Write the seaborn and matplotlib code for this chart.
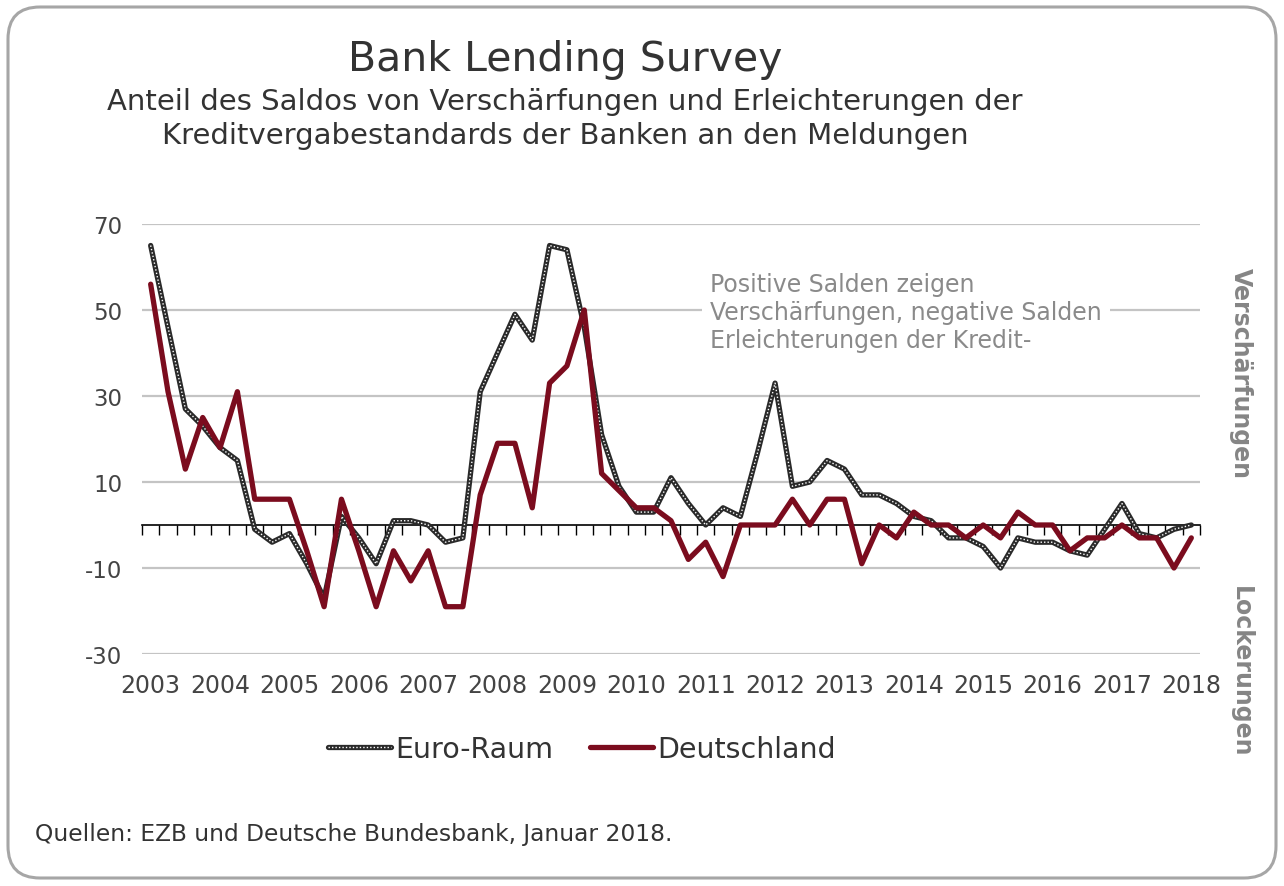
import pandas as pd
import matplotlib.pyplot as plt
import matplotlib.transforms as mtransforms
from matplotlib.lines import Line2D
from matplotlib.patches import FancyBboxPatch
import seaborn as sns

# Set seaborn style
sns.set_theme(style="white")
plt.rcParams['font.family'] = ['DejaVu Sans']
plt.rcParams['axes.unicode_minus'] = False

# quarterly survey balances, 2003Q1 .. 2018Q1
euro_raum = [65, 46, 27, 23, 18, 15, -1, -4, -2, -9, -17, 2, -3, -9, 1, 1,
             0, -4, -3, 31, 40, 49, 43, 65, 64, 46, 21, 9, 3, 3, 11, 5,
             0, 4, 2, 17, 33, 9, 10, 15, 13, 7, 7, 5, 2, 1, -3, -3,
             -5, -10, -3, -4, -4, -6, -7, -1, 5, -2, -3, -1, 0]
deutschland = [56, 31, 13, 25, 18, 31, 6, 6, 6, -6, -19, 6, -6, -19, -6, -13,
               -6, -19, -19, 7, 19, 19, 4, 33, 37, 50, 12, 8, 4, 4, 1, -8,
               -4, -12, 0, 0, 0, 6, 0, 6, 6, -9, 0, -3, 3, 0, 0, -3,
               0, -3, 3, 0, 0, -6, -3, -3, 0, -3, -3, -10, -3]
year_labels = [str(y) for y in range(2003, 2019)]
y_ticks = [-30, -10, 10, 30, 50, 70]

RED = "#7b0c1e"
GREY_TXT = "#8a8a8a"
DARK_TXT = "#333333"

df = pd.DataFrame({
    'q': range(len(euro_raum)),
    'Euro-Raum': euro_raum,
    'Deutschland': deutschland,
})

fig = plt.figure(figsize=(12.84, 8.87), dpi=100)
ax = fig.add_axes([142 / 1284, 1 - 655 / 887, 1058 / 1284, 430 / 887])

# Euro-Raum: black line with white dotted core
sns.lineplot(data=df, x='q', y='Euro-Raum', ax=ax, color='#2a2a2a', lw=3.8, zorder=3)
sns.lineplot(data=df, x='q', y='Euro-Raum', ax=ax, color='white', lw=1.0,
             linestyle=(0, (1, 1.5)), zorder=4)
sns.lineplot(data=df, x='q', y='Deutschland', ax=ax, color=RED, lw=3.8, zorder=5)

ax.set_xlim(-0.5, len(euro_raum) - 0.5)
ax.set_ylim(-30, 70)
ax.set_yticks(y_ticks)
ax.yaxis.grid(True, color='#c4c4c4', lw=1.6)
ax.set_axisbelow(True)
ax.tick_params(axis='y', length=0, labelsize=16.5, labelcolor='#444444', pad=14)
ax.set_xlabel('')
ax.set_ylabel('')

# category axis crossing at zero with quarterly tick marks
for s in ['left', 'right', 'top']:
    ax.spines[s].set_visible(False)
ax.spines['bottom'].set_position(('data', 0))
ax.spines['bottom'].set_color('black')
ax.spines['bottom'].set_linewidth(1.2)
ax.set_xticks([i - 0.5 for i in range(len(euro_raum) + 1)])
ax.set_xticklabels([])
ax.tick_params(axis='x', direction='out', length=7, width=1.0, color='black', bottom=True)

trans = mtransforms.blended_transform_factory(ax.transData, ax.transAxes)
for i, lab in enumerate(year_labels):
    ax.text(i * 4, -0.045, lab, transform=trans, ha='center', va='top',
            fontsize=17, color='#444444')

# titles
fig.text(0.44, 0.932, "Bank Lending Survey", ha='center', va='center',
         fontsize=29.5, color=DARK_TXT)
fig.text(0.44, 0.866, "Anteil des Saldos von Verschärfungen und Erleichterungen der\n"
         "Kreditvergabestandards der Banken an den Meldungen",
         ha='center', va='center', fontsize=21, color=DARK_TXT, linespacing=1.25)

# note inside the plot
fig.text(710 / 1284, 1 - 273 / 887,
         "Positive Salden zeigen\nVerschärfungen, negative Salden\nErleichterungen der Kredit-",
         ha='left', va='top', fontsize=17, color=GREY_TXT, linespacing=1.2,
         bbox=dict(facecolor='white', edgecolor='none', pad=6))

# side labels
fig.text(1241 / 1284, 1 - 373 / 887, "Verschärfungen", rotation=-90, ha='center',
         va='center', fontsize=17, fontweight='bold', color='#858585')
fig.text(1241 / 1284, 1 - 672 / 887, "Lockerungen", rotation=-90, ha='center',
         va='center', fontsize=17, fontweight='bold', color='#858585')

# legend
h_euro = (Line2D([], [], color='#2a2a2a', lw=3.8),
          Line2D([], [], color='white', lw=1.0, linestyle=(0, (1, 1.5))))
h_de = Line2D([], [], color=RED, lw=3.8)
fig.legend([h_euro, h_de], ['Euro-Raum', 'Deutschland'], loc='center',
           bbox_to_anchor=(582 / 1284, 1 - 750 / 887), ncol=2, frameon=False,
           fontsize=20.5, handlelength=2.2, handletextpad=0.15, columnspacing=1.3,
           labelcolor=DARK_TXT)

# source
fig.text(35 / 1284, 1 - 835 / 887, "Quellen: EZB und Deutsche Bundesbank, Januar 2018.",
         ha='left', va='center', fontsize=16.8, color=DARK_TXT)

# rounded frame
fig.patches.append(FancyBboxPatch((8, 8), 1268, 871,
                                  boxstyle='round,pad=0,rounding_size=32',
                                  transform=None, fill=False, ec='#a6a6a6', lw=2.2))

plt.savefig('out.png', dpi=100)
